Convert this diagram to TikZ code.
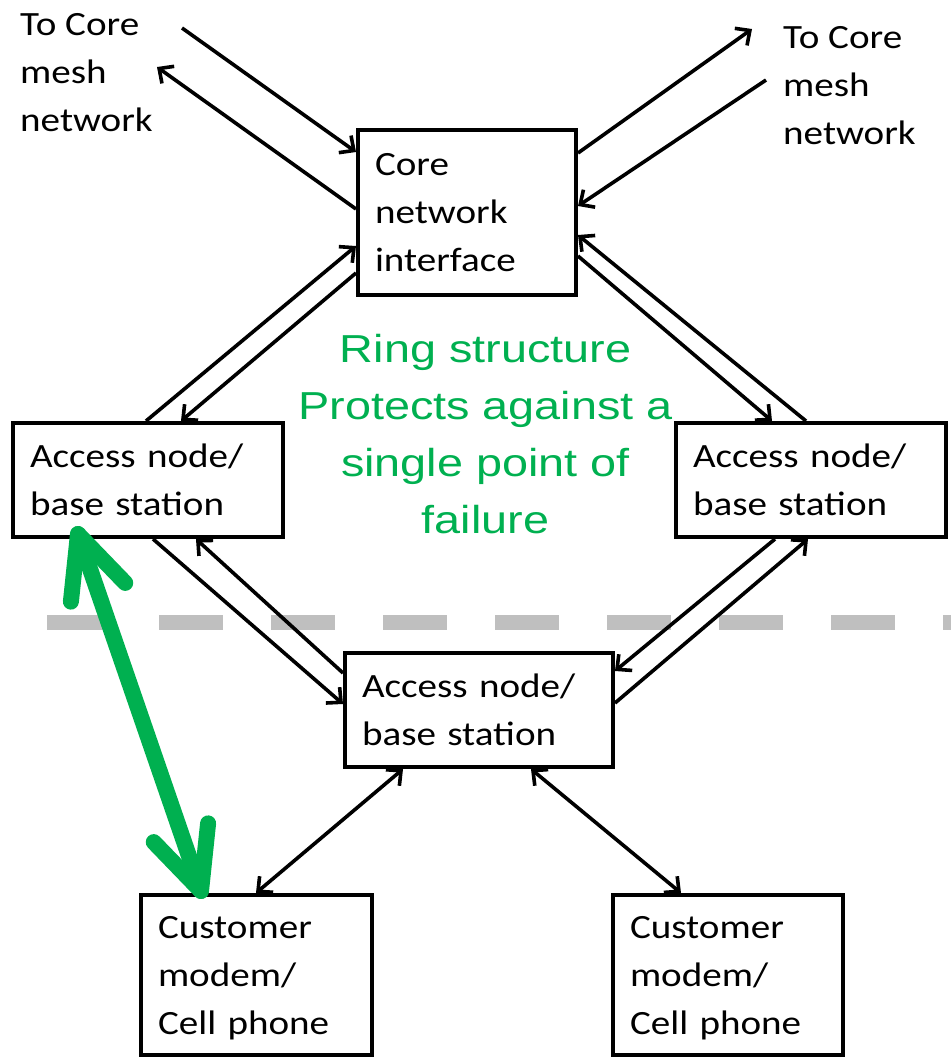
\documentclass[tikz,border=0pt]{standalone}
\usepackage{fontspec}
\setmainfont{Carlito}
\newfontfamily\boxfont[FakeStretch=1.15]{Carlito}
\newfontfamily\notefont[FakeStretch=1.2]{Liberation Sans}
\usetikzlibrary{arrows.meta,calc}
\definecolor{notegreen}{RGB}{0,176,80}
\definecolor{divgray}{RGB}{191,191,191}
\tikzset{
  box/.style={draw, line width=4pt, align=left, inner xsep=17pt, inner ysep=0pt,
    font=\boxfont\fontsize{34}{48}\selectfont},
  two lines/.style={text depth=48pt},
  three lines/.style={text depth=96pt},
  lbl/.style={inner sep=0pt, align=left, text depth=0pt, font=\boxfont\fontsize{34}{48}\selectfont},
  note/.style={inner sep=0pt, align=center, text depth=0pt, text=notegreen,
    font=\notefont\fontsize{39}{57}\selectfont},
  tipb/.tip={Straight Barb[length=11pt,width=21pt]},
  link/.style={line width=3.6pt, -tipb},
  dlink/.style={line width=3.6pt, tipb-tipb},
  divider/.style={divgray, line width=15pt, dash pattern=on 64pt off 48pt},
  greenlink/.style={notegreen, line width=16pt, line cap=round, line join=round}
}
\begin{document}
\begin{tikzpicture}[x=1pt,y=-1pt]
\useasboundingbox (0,0) rectangle (951,1058);

% dashed divider between the ring and the customer side
\draw[divider] (47,622.5) -- (951,622.5);

% boxes
\node[box, three lines, minimum width=218pt, minimum height=165pt, text width=184pt] (core) at (467,212.5) {Core\\network\\interface};
\node[box, two lines, minimum width=270pt, minimum height=114pt, text width=236pt] (la) at (148,480) {Access node/\\base station};
\node[box, two lines, minimum width=270pt, minimum height=114pt, text width=236pt] (ra) at (811,480) {Access node/\\base station};
\node[box, two lines, minimum width=268pt, minimum height=114pt, text width=234pt] (ba) at (479,710) {Access node/\\base station};
\node[box, three lines, minimum width=231pt, minimum height=160pt, text width=197pt] (cl) at (256.5,975) {Customer\\modem/\\Cell phone};
\node[box, three lines, minimum width=230pt, minimum height=160pt, text width=196pt] (cr) at (728,975) {Customer\\modem/\\Cell phone};

% labels
\node[lbl, anchor=west] (meshl) at (20,72.5) {To Core\\mesh\\network};
\node[lbl, anchor=west] (meshr) at (783,85) {To Core\\mesh\\network};
\node[note] (ring) at (485.5,434) {Ring structure\\Protects against a\\single point of\\failure};

% free ends towards the core mesh
\coordinate (tlin) at (182,28);
\coordinate (tlout) at (157,67);
\coordinate (trout) at (752,29);
\coordinate (trin) at (766,80);

% core links
\draw[link] (tlin) -- ($(core.north west)+(0,24)$);
\draw[link] ($(core.north west)+(0,81)$) -- (tlout);
\draw[link] ($(core.north east)+(0,25)$) -- (trout);
\draw[link] (trin) -- ($(core.north east)+(0,78)$);

% ring links
\draw[link] ($(la.north west)+(135,0)$) -- ($(core.north west)+(0,118)$);
\draw[link] ($(core.north west)+(0,145)$) -- ($(la.north west)+(170,0)$);
\draw[link] ($(core.north east)+(0,128)$) -- ($(ra.north west)+(98,0)$);
\draw[link] ($(ra.north west)+(132,0)$) -- ($(core.north east)+(0,107)$);
\draw[link] ($(la.south west)+(142,0)$) -- ($(ba.north west)+(0,53)$);
\draw[link] ($(ba.north west)+(0,22)$) -- ($(la.south west)+(185,0)$);
\draw[link] ($(ra.south west)+(101,0)$) -- ($(ba.north east)+(0,20)$);
\draw[link] ($(ba.north east)+(0,52)$) -- ($(ra.south west)+(134,0)$);

% access links
\draw[dlink] ($(ba.south west)+(60,0)$) -- ($(cl.north west)+(117,0)$);
\draw[dlink] ($(ba.south west)+(188,0)$) -- ($(cr.north west)+(70,0)$);

% wireless hop, drawn as a thick double arrow
\coordinate (g1) at ($(la.south west)+(67,-5)$);
\coordinate (g2) at ($(cl.north west)+(62,-2)$);
\draw[greenlink] (g1) -- (g2);
\draw[greenlink] ($(g1)!68pt!25:(g2)$) -- (g1) -- ($(g1)!68pt!-25:(g2)$);
\draw[greenlink] ($(g2)!68pt!25:(g1)$) -- (g2) -- ($(g2)!68pt!-25:(g1)$);
\end{tikzpicture}
\end{document}
